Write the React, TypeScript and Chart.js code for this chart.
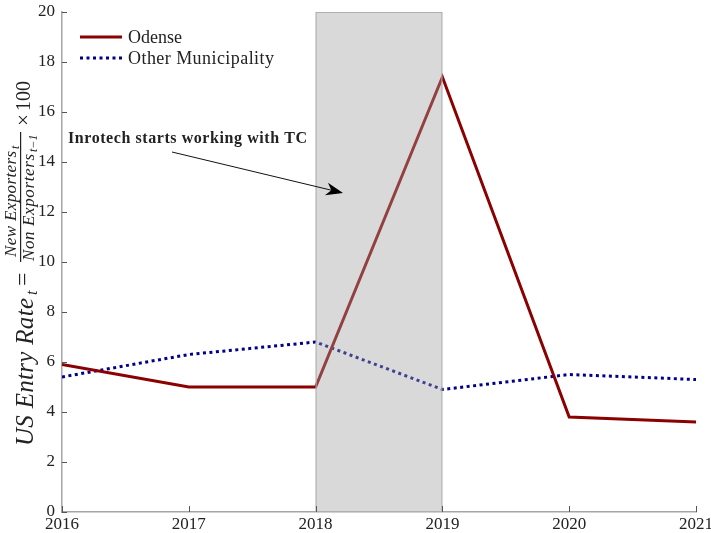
import React, { useEffect, useRef } from "react";
import { Chart, registerables } from "chart.js";

Chart.register(...registerables);

const years = [2016, 2017, 2018, 2019, 2020, 2021];
const odense = [5.9, 5.0, 5.0, 17.4, 3.8, 3.6];
const otherMunicipality = [5.4, 6.3, 6.8, 4.9, 5.5, 5.3];
const shadeStart = 2018;
const shadeEnd = 2019;
const yTicks = [0, 2, 4, 6, 8, 10, 12, 14, 16, 18, 20];
const legendLabels = ["Odense", "Other Municipality"];
const annotationText = "Inrotech starts working with TC";

const SERIF = '"Liberation Serif", "Times New Roman", serif';
const RED = "#8b0000";
const BLUE = "#00008b";
const AXIS = "#a6a6a6";

function fitText(ctx: any, text: string, x: number, y: number, target: number) {
  ctx.letterSpacing = "0px";
  const w = ctx.measureText(text).width;
  const n = Math.max(1, text.length - 1);
  const sp = (target - w) / n;
  ctx.letterSpacing = `${sp}px`;
  ctx.fillText(text, x, y);
  ctx.letterSpacing = "0px";
}

const overlayPlugin = {
  id: "overlay",
  afterDatasetsDraw(chart: any) {
    const { ctx } = chart;
    const x = chart.scales.x;
    const y = chart.scales.y;
    const x0 = x.getPixelForValue(shadeStart);
    const x1 = x.getPixelForValue(shadeEnd);
    const y0 = y.getPixelForValue(20);
    const y1 = y.getPixelForValue(0);
    ctx.save();
    ctx.fillStyle = "rgba(160,160,160,0.4)";
    ctx.fillRect(x0, y0, x1 - x0, y1 - y0);
    ctx.strokeStyle = "#b0b0b0";
    ctx.lineWidth = 1;
    ctx.strokeRect(x0 + 0.5, y0 + 0.5, x1 - x0 - 1, y1 - y0 - 1);
    ctx.restore();
  },
  afterDraw(chart: any) {
    const { ctx } = chart;
    const x = chart.scales.x;
    const y = chart.scales.y;
    const area = chart.chartArea;
    ctx.save();
    // inward ticks
    ctx.strokeStyle = "#555";
    ctx.lineWidth = 1;
    yTicks.forEach((v) => {
      const py = Math.round(y.getPixelForValue(v)) + 0.5;
      ctx.beginPath();
      ctx.moveTo(area.left, py);
      ctx.lineTo(area.left + 5, py);
      ctx.stroke();
    });
    years.forEach((v) => {
      const px = Math.round(x.getPixelForValue(v)) + 0.5;
      ctx.beginPath();
      ctx.moveTo(px, area.bottom);
      ctx.lineTo(px, area.bottom - 6);
      ctx.stroke();
    });

    // legend
    ctx.lineWidth = 3;
    ctx.strokeStyle = RED;
    ctx.setLineDash([]);
    ctx.beginPath();
    ctx.moveTo(80, 37);
    ctx.lineTo(122, 37);
    ctx.stroke();
    ctx.strokeStyle = BLUE;
    ctx.setLineDash([3, 3.5]);
    ctx.beginPath();
    ctx.moveTo(80, 58);
    ctx.lineTo(122, 58);
    ctx.stroke();
    ctx.setLineDash([]);
    ctx.fillStyle = "#222";
    ctx.font = `18px ${SERIF}`;
    ctx.textBaseline = "alphabetic";
    ctx.textAlign = "left";
    fitText(ctx, legendLabels[0], 128, 43, 54);
    fitText(ctx, legendLabels[1], 128, 64, 146);

    // annotation
    ctx.font = `bold 16px ${SERIF}`;
    ctx.fillStyle = "#222";
    fitText(ctx, annotationText, 68, 143, 239);
    const ax0 = 172, ay0 = 152, ax1 = 343, ay1 = 193;
    const ang = Math.atan2(ay1 - ay0, ax1 - ax0);
    ctx.strokeStyle = "#111";
    ctx.lineWidth = 1;
    ctx.beginPath();
    ctx.moveTo(ax0, ay0);
    ctx.lineTo(ax1 - 10 * Math.cos(ang), ay1 - 10 * Math.sin(ang));
    ctx.stroke();
    ctx.save();
    ctx.translate(ax1, ay1);
    ctx.rotate(ang);
    ctx.beginPath();
    ctx.moveTo(0, 0);
    ctx.lineTo(-17, -6.5);
    ctx.lineTo(-12, 0);
    ctx.lineTo(-17, 6.5);
    ctx.closePath();
    ctx.fillStyle = "#000";
    ctx.fill();
    ctx.restore();

    // y-axis label (math), rotated: x' = -pageY, y' = pageX
    ctx.save();
    ctx.rotate(-Math.PI / 2);
    ctx.fillStyle = "#222";
    ctx.textAlign = "left";
    ctx.textBaseline = "alphabetic";
    ctx.font = `italic 25px ${SERIF}`;
    fitText(ctx, "US Entry Rate", -446, 33, 148);
    ctx.font = `italic 16px ${SERIF}`;
    ctx.fillText("t", -295, 37);
    ctx.font = `24px ${SERIF}`;
    ctx.fillText("=", -286, 30);
    // fraction
    ctx.fillRect(-262, 20, 130, 1.2);
    ctx.font = `italic 17px ${SERIF}`;
    fitText(ctx, "New Exporters", -257, 15.5, 106);
    ctx.font = `italic 12px ${SERIF}`;
    ctx.fillText("t", -149, 18.5);
    ctx.font = `italic 17px ${SERIF}`;
    fitText(ctx, "Non Exporters", -261, 34, 107);
    ctx.font = `italic 12px ${SERIF}`;
    ctx.fillText("t\u22121", -152, 37);
    ctx.font = `21px ${SERIF}`;
    ctx.fillText("\u00d7", -126, 30);
    ctx.font = `20px ${SERIF}`;
    ctx.fillText("100", -111, 30);
    ctx.restore();

    ctx.restore();
  },
};

export default function App() {
  const ref = useRef<HTMLCanvasElement>(null);
  useEffect(() => {
    if (!ref.current) return;
    const chart = new Chart(ref.current, {
      type: "line",
      data: {
        datasets: [
          {
            label: legendLabels[0],
            data: years.map((yr, i) => ({ x: yr, y: odense[i] })),
            borderColor: RED,
            borderWidth: 3,
            pointRadius: 0,
            tension: 0,
          },
          {
            label: legendLabels[1],
            data: years.map((yr, i) => ({ x: yr, y: otherMunicipality[i] })),
            borderColor: BLUE,
            borderWidth: 3,
            borderDash: [3, 3.5],
            pointRadius: 0,
            tension: 0,
          },
        ],
      },
      options: {
        animation: false,
        responsive: false,
        maintainAspectRatio: false,
        layout: { padding: { top: 12, right: 15, left: 0, bottom: 0 } },
        plugins: { legend: { display: false }, tooltip: { enabled: false } },
        scales: {
          x: {
            type: "linear",
            min: 2016,
            max: 2021,
            grid: { display: false, drawTicks: false },
            border: { display: true, color: AXIS, width: 1.5 },
            ticks: {
              stepSize: 1,
              padding: 2,
              color: "#222",
              font: { family: SERIF, size: 17 },
              maxRotation: 0,
              callback: (v: any) => String(v),
            },
            afterFit: (s: any) => {
              s.height = 21;
              s.paddingLeft = 0;
              s.paddingRight = 0;
            },
          },
          y: {
            type: "linear",
            min: 0,
            max: 20,
            grid: { display: false, drawTicks: false },
            border: { display: true, color: AXIS, width: 1.5 },
            ticks: {
              stepSize: 2,
              padding: 7,
              color: "#222",
              font: { family: SERIF, size: 17 },
            },
            afterFit: (s: any) => {
              s.width = 62;
              s.paddingTop = 0;
              s.paddingBottom = 0;
            },
          },
        },
      },
      plugins: [overlayPlugin],
    });
    return () => chart.destroy();
  }, []);
  return (
    <div style={{ position: "absolute", left: 0, top: 0, width: 711, height: 533, background: "#fff" }}>
      <canvas ref={ref} width={711} height={533} style={{ display: "block" }} />
    </div>
  );
}
